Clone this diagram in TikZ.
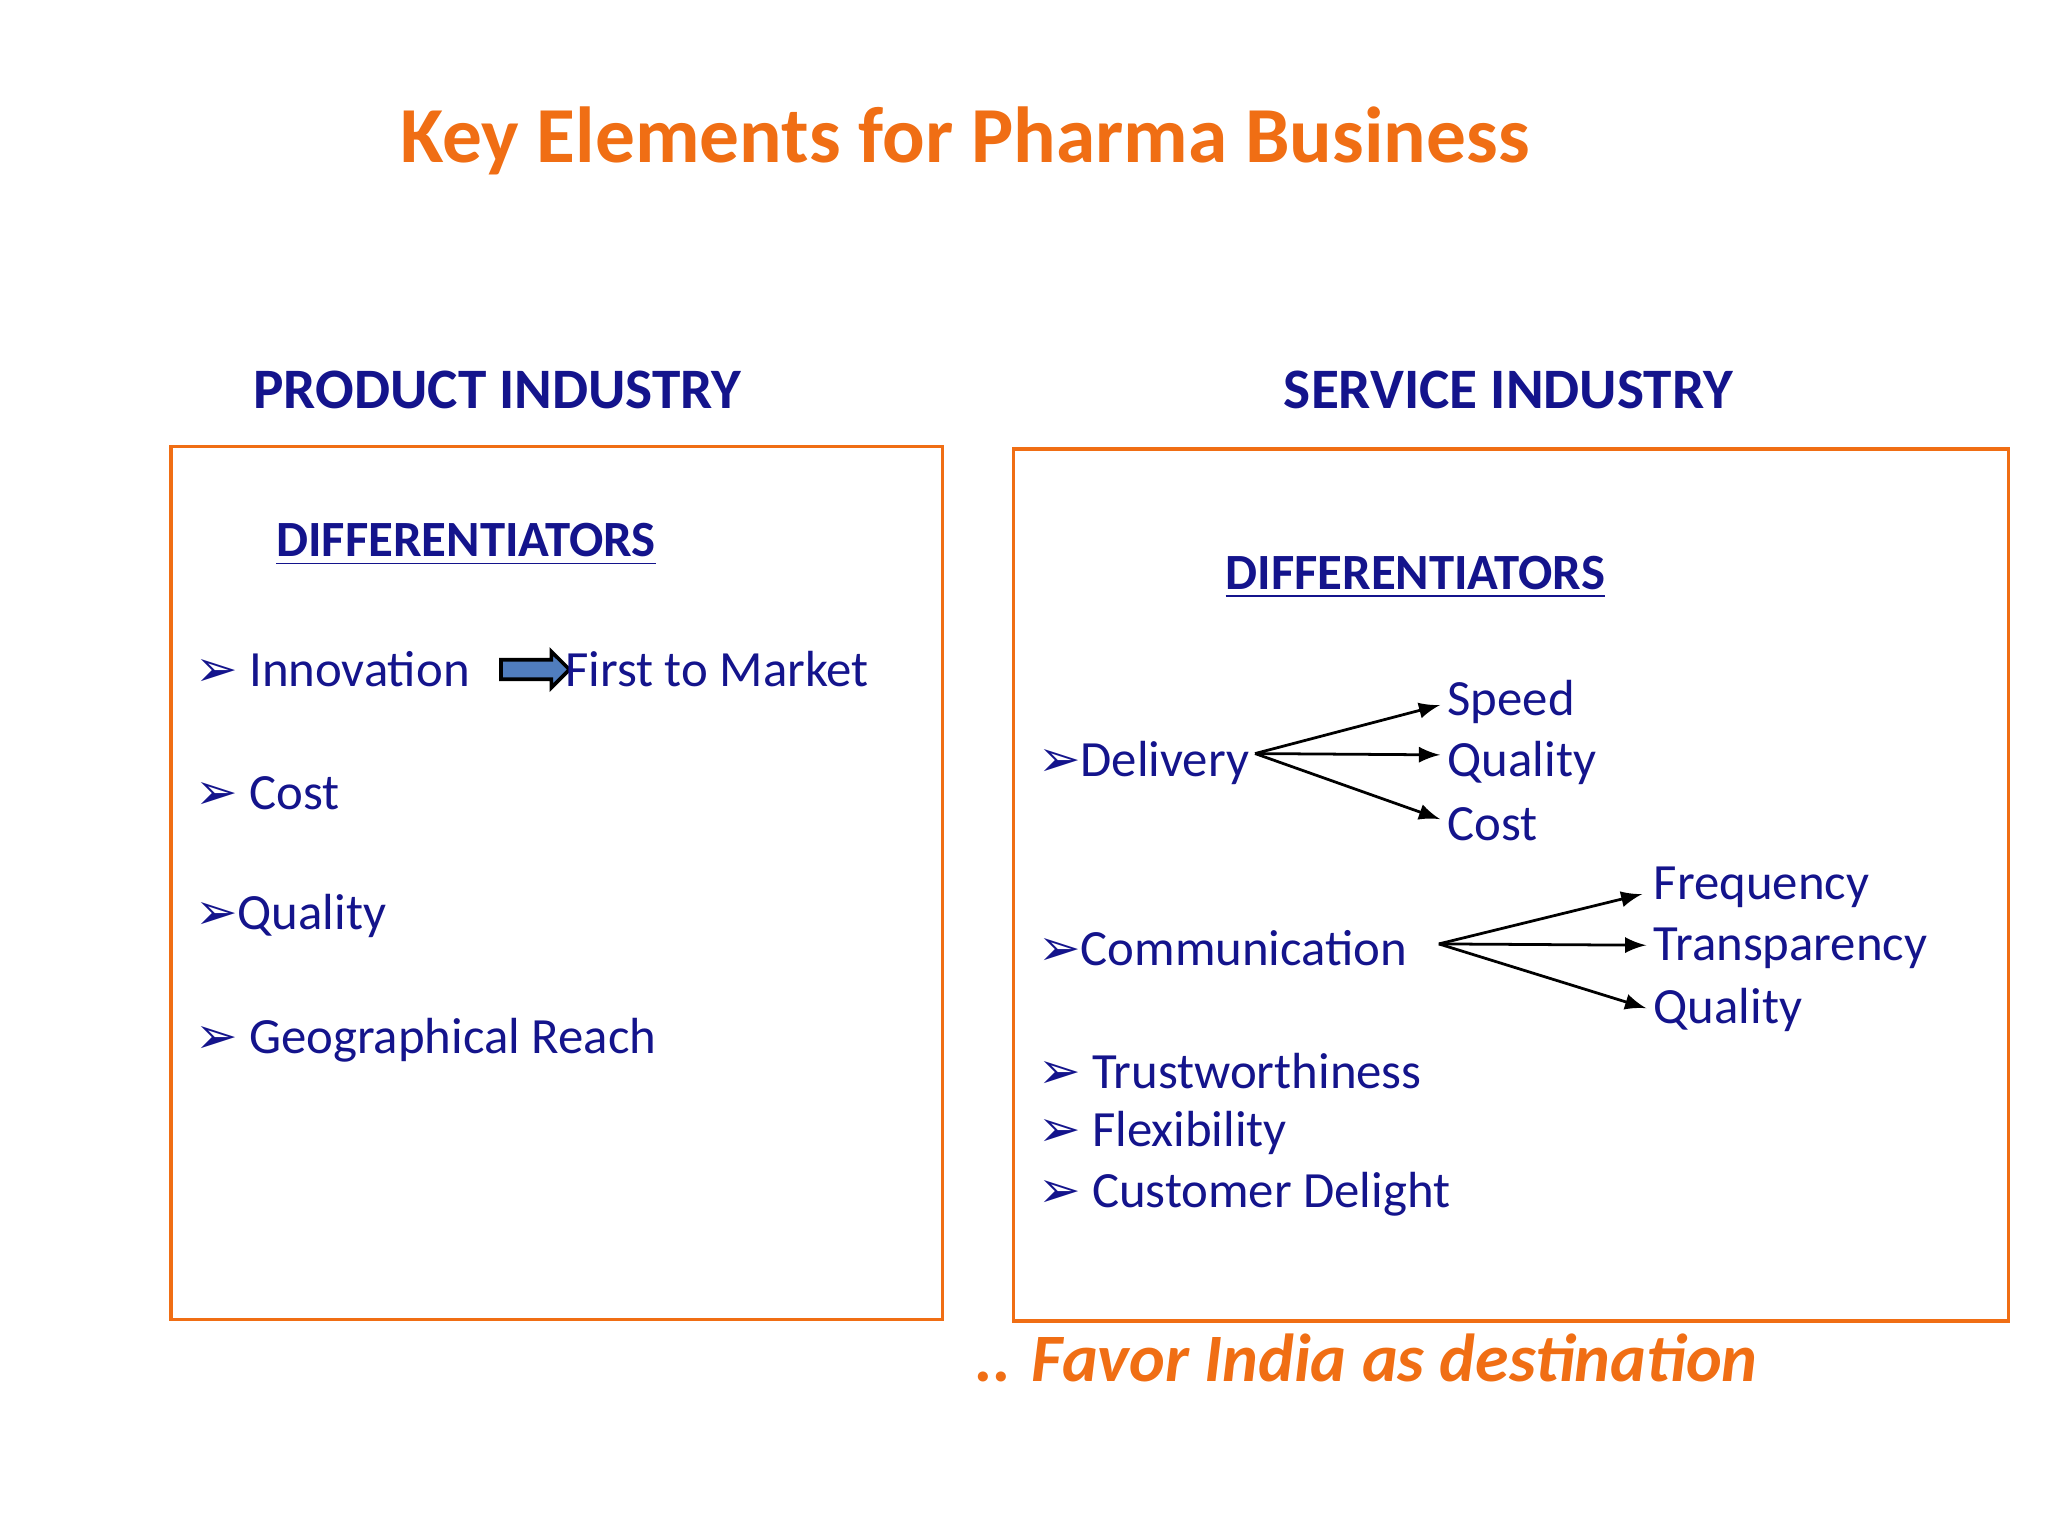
\documentclass[tikz,border=0pt]{standalone}
\usepackage{fontspec}
\setmainfont{Carlito}
\newfontfamily\bulfont{DejaVu Sans}
\usetikzlibrary{shapes.arrows}
\definecolor{orng}{RGB}{240,110,20}
\definecolor{navy}{RGB}{20,20,140}
\definecolor{arblue}{RGB}{80,125,190}
\newcommand{\bul}{{\bulfont\char"27A2}}
\begin{document}
\begin{tikzpicture}[x=0.01cm,y=-0.01cm,
  txt/.style={anchor=west,text=navy,font=\fontsize{11}{13}\selectfont,inner sep=0pt},
  hd/.style={text=navy,font=\bfseries\fontsize{12.4}{14}\selectfont,inner sep=0pt},
  hd2/.style={text=navy,font=\bfseries\fontsize{11}{13}\selectfont,inner sep=0pt},
  box/.style={draw=orng,line width=0.8pt},
  arr/.style={-latex,line width=0.6pt}]
\useasboundingbox (0,0) rectangle (1560,1170);
\node[text=orng,font=\bfseries\fontsize{17.2}{19}\selectfont,inner sep=0pt] (title) at (735,107) {Key Elements for Pharma Business};
\node[hd] (ph) at (379,297) {PRODUCT INDUSTRY};
\node[hd] (sh) at (1149,297) {SERVICE INDUSTRY};
\draw[box] (130,340) rectangle (718,1005);
\draw[box] (772,342) rectangle (1530,1006);
\node[hd2] (d1) at (355,415) {\underline{DIFFERENTIATORS}};
\node[hd2] (d2) at (1078,440) {\underline{DIFFERENTIATORS}};
\node[txt] (inn) at (148,510) {\bul\ Innovation};
\node[single arrow,draw=black,fill=arblue,line width=0.8pt,minimum height=0.52cm,single arrow head extend=1.8pt,inner xsep=0pt,inner ysep=0.06cm] (ba) at (404,510) {};
\node[txt] (ftm) at (430,510) {First to Market};
\node[txt] (cost) at (148,604) {\bul\ Cost};
\node[txt] (qual) at (148,698) {\bul Quality};
\node[txt] (geo) at (148,792) {\bul\ Geographical Reach};
\node[txt] (del) at (790,581) {\bul Delivery};
\coordinate (dp) at (956,574);
\node[txt] (spd) at (1102,535) {Speed};
\node[txt] (dq) at (1102,581) {Quality};
\node[txt] (dc) at (1102,628) {Cost};
\draw[arr] (dp) -- (1097,537);
\draw[arr] (dp) -- (1097,575);
\draw[arr] (dp) -- (1097,624);
\node[txt] (com) at (790,722) {\bul Communication};
\coordinate (cp) at (1096,719);
\node[txt] (frq) at (1259,676) {Frequency};
\node[txt] (trn) at (1259,722) {Transparency};
\node[txt] (cq) at (1259,769) {Quality};
\draw[arr] (cp) -- (1251,681);
\draw[arr] (cp) -- (1254,720);
\draw[arr] (cp) -- (1254,768);
\node[txt] (tr) at (790,816) {\bul\ Trustworthiness};
\node[txt] (fl) at (790,863) {\bul\ Flexibility};
\node[txt] (cd) at (790,910) {\bul\ Customer Delight};
\node[text=orng,font=\bfseries\itshape\fontsize{14.7}{16}\selectfont,inner sep=0pt,anchor=west] (fav) at (742,1034) {.. Favor India as destination};
\end{tikzpicture}
\end{document}
